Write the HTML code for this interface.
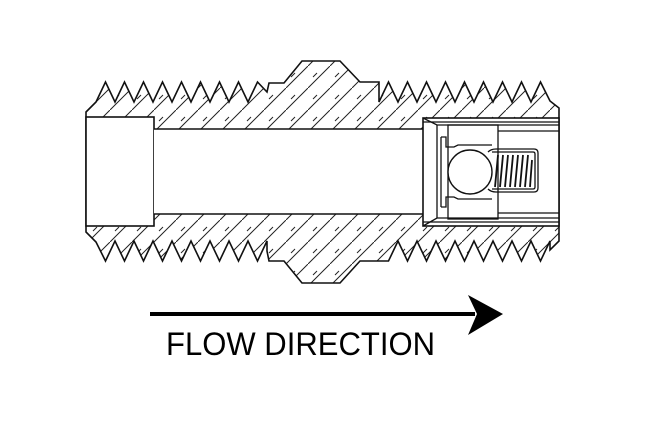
<!DOCTYPE html>
<html><head><meta charset="utf-8"><style>
html,body{margin:0;padding:0;background:#fff;}
svg{display:block}
</style></head><body>
<svg id="s" width="650" height="425" viewBox="0 0 650 425" xmlns="http://www.w3.org/2000/svg">
<defs>
<pattern id="h" patternUnits="userSpaceOnUse" width="22" height="22">
<line x1="0" y1="22" x2="22" y2="0" stroke="#222" stroke-width="1"/>
<line x1="5" y1="11" x2="9" y2="7" stroke="#222" stroke-width="1"/>
</pattern>
</defs>
<polygon id="body" fill="url(#h)" stroke="#111" stroke-width="1.6" stroke-linejoin="miter" points=""/>
<rect x="86" y="117" width="68" height="109" fill="#fff" stroke="#111" stroke-width="1.6"/>
<rect x="154" y="129" width="270" height="85" fill="#fff"/>
<line x1="154" y1="129" x2="424" y2="129" stroke="#111" stroke-width="1.6"/>
<line x1="154" y1="214" x2="424" y2="214" stroke="#111" stroke-width="1.6"/>
<rect x="423" y="118" width="136" height="108" fill="#fff" stroke="#111" stroke-width="1.6"/>
<g fill="none" stroke="#111" stroke-width="1.3">
<line x1="423" y1="122" x2="559" y2="122"/>
<line x1="423" y1="222" x2="559" y2="222"/>
<line x1="437" y1="125" x2="437" y2="218"/>
<polyline points="423,118 437,125 559,125"/>
<polyline points="423,226 437,218 559,218"/>
<rect x="448" y="125" width="50" height="94"/>
<polyline points="498,131 559,131"/>
<polyline points="498,213 559,213"/>
<path d="M441 137 h5 v10 h8 l4 -2 h34"/>
<path d="M441 207 h5 v-10 h8 l4 2 h34"/>
<line x1="441" y1="137" x2="441" y2="207"/>
<path d="M488 152 q3 -3 8 -3 h38 q4 0 4 4 v35 q0 4 -4 4 h-38 q-5 0 -8 -3"/>
<path d="M492 152 h41 q2 0 2 2 v33 q0 2 -2 2 h-41"/>
</g>
<g stroke="#111" stroke-width="1.8" fill="none">
<line x1="495" y1="187" x2="498" y2="155"/><line x1="500" y1="187" x2="503" y2="155"/>
<line x1="505" y1="187" x2="508" y2="155"/><line x1="510" y1="187" x2="513" y2="155"/>
<line x1="515" y1="187" x2="518" y2="155"/><line x1="520" y1="187" x2="523" y2="155"/>
<line x1="525" y1="187" x2="528" y2="155"/><line x1="530" y1="187" x2="532" y2="160"/>
</g>
<circle cx="470" cy="172" r="22" fill="#fff" stroke="#111" stroke-width="1.4"/>
<line x1="150" y1="314" x2="475" y2="314" stroke="#000" stroke-width="4"/>
<polygon points="503,314 468,295 477,314 468,335" fill="#000"/>
<text x="166" y="355" font-family="Liberation Sans, Arial, sans-serif" font-size="32" textLength="269" lengthAdjust="spacingAndGlyphs" fill="#000">FLOW DIRECTION</text>
</svg>
<script>
(function(){
var p=[];
function zig(x0,x1,root,tip,dir){var pts=[];var step=19;
 if(dir>0){for(var x=x0;x<x1;x+=step){pts.push([x,root]);pts.push([x+step/2,tip]);}}
 else{for(var x=x1;x>x0;x-=step){pts.push([x,root]);pts.push([x-step/2,tip]);}}
 return pts;}
p.push([86,112]);
p=p.concat(zig(96,267,102,82,1));
p.push([267,92],[269,83],[284,83],[302,61],[340,61],[360,82],[379,82]);
p=p.concat(zig(379,550,102,82,1).slice(0));
p.push([550,101],[559,108],[559,241],[550,250]);
p=p.concat(zig(379,550,241,261,-1));
p.push([379,261],[360,261],[340,283],[302,283],[284,261],[269,261],[267,251]);
p=p.concat(zig(96,267,241,261,-1));
p.push([96,242],[86,232]);
document.getElementById('body').setAttribute('points',p.map(function(a){return a[0]+','+a[1];}).join(' '));
})();
</script>
</body></html>
